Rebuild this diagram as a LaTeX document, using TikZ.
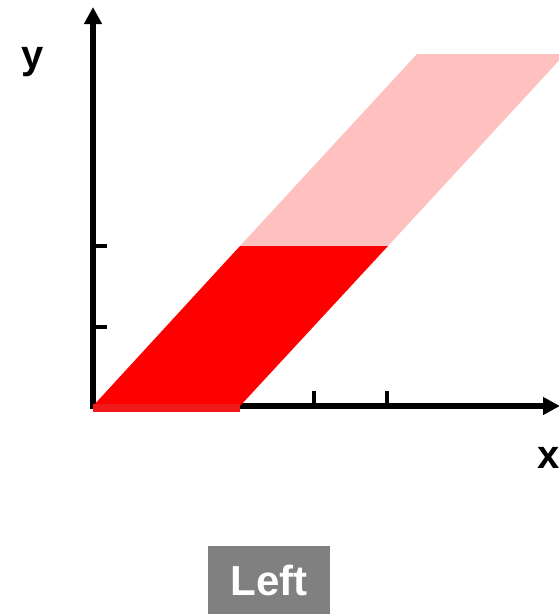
\documentclass[tikz,border=0pt]{standalone}
\usepackage{fontspec}
\setmainfont{Liberation Sans}
\usetikzlibrary{arrows.meta}
\definecolor{lightred}{RGB}{255,192,192}
\definecolor{barred}{RGB}{240,24,24}
\definecolor{boxgray}{RGB}{128,128,128}
\tikzset{
  axis/.style={line width=5.5pt, -{Triangle[length=17pt,width=17pt]}},
  tick/.style={line width=4pt},
  lab/.style={font=\bfseries\fontsize{40}{40}\selectfont, inner sep=0pt},
}
\begin{document}
\begin{tikzpicture}[x=1pt,y=-1pt]
\useasboundingbox (0,0) rectangle (559,614);
% axes
\coordinate (O) at (93,406);
\coordinate (ytop) at (93,7);
\coordinate (xend) at (560,406);
\draw[axis] (93,408.75) -- (ytop);
\draw[axis] (90.25,406) -- (xend);
% ticks
\draw[tick] (93,246) -- (107,246);
\draw[tick] (93,327) -- (107,327);
\draw[tick] (314,406) -- (314,391);
\draw[tick] (387,406) -- (387,391);
% pink parallelogram (clipped at right edge)
\begin{scope}
\clip (0,0) rectangle (559,614);
\fill[lightred] (240,246) -- (417,54) -- (565,54) -- (388,246) -- cycle;
\end{scope}
% red parallelogram
\fill[red] (O) -- (240,246) -- (388,246) -- (240,406) -- cycle;
\draw[barred, line width=8pt] (93,408) -- (240,408);
% labels
\node[lab] (ylab) at (33,62) {y};
\node[lab] (xlab) at (549,458) {x};
\node[fill=boxgray, text=white, font=\bfseries\fontsize{42}{42}\selectfont,
      minimum width=122pt, minimum height=68pt, inner sep=0pt] (left) at (269,580) {Left};
\end{tikzpicture}
\end{document}
